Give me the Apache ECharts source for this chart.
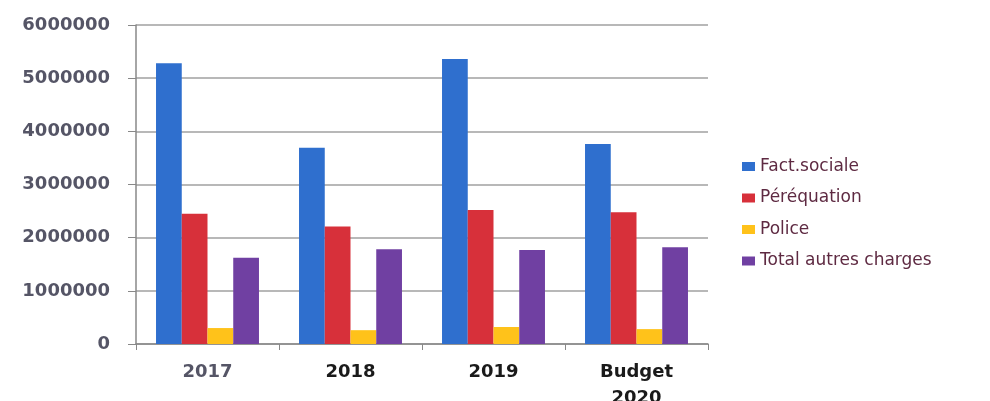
<!DOCTYPE html>
<html><head><meta charset="utf-8">
<script src="https://cdn.jsdelivr.net/npm/echarts@6/dist/echarts.min.js"></script>
<style>html,body{margin:0;padding:0;background:#fff}#c{width:990px;height:401px}</style>
</head><body><div id="c"></div>
<script>
const categories = ['2017', '2018', '2019', 'Budget\n2020'];
const factSociale = [5280000, 3690000, 5360000, 3760000];
const perequation = [2450000, 2210000, 2520000, 2480000];
const police = [300000, 260000, 320000, 280000];
const totalAutres = [1620000, 1780000, 1770000, 1820000];
const seriesNames = ['Fact.sociale', 'Péréquation', 'Police', 'Total autres charges'];
const colors = ['#2f6fce', '#d7303a', '#ffc21a', '#7040a2'];

const chart = echarts.init(document.getElementById('c'));
const dataSets = [factSociale, perequation, police, totalAutres];
chart.setOption({
  animation: false,
  grid: { left: 136, right: 282, top: 25, bottom: 57, containLabel: false, outerBoundsMode: 'none' },
  legend: {
    orient: 'vertical', left: 737, top: 152, itemGap: 12.5,
    itemWidth: 13, itemHeight: 9, icon: 'rect',
    textStyle: { fontFamily: 'DejaVu Sans', fontSize: 17, color: '#5e2a42', lineHeight: 19 },
    data: seriesNames
  },
  xAxis: {
    type: 'category', data: categories,
    axisLine: { lineStyle: { color: '#888', width: 1.5 } },
    axisTick: { show: true, length: 6, lineStyle: { color: '#888' } },
    axisLabel: {
      margin: 15, fontFamily: 'DejaVu Sans', fontWeight: 'bold', fontSize: 18,
      lineHeight: 26,
      color: function (v, i) { return i === 0 ? '#555566' : '#1a1a1a'; }
    }
  },
  yAxis: {
    type: 'value', min: 0, max: 6000000, interval: 1000000,
    axisLine: { show: true, lineStyle: { color: '#888', width: 1.5 } },
    axisTick: { show: true, length: 8, lineStyle: { color: '#888' } },
    splitLine: { lineStyle: { color: '#a0a0a0', width: 1.5 } },
    axisLabel: {
      margin: 26, fontFamily: 'DejaVu Sans', fontWeight: 'bold', fontSize: 18, color: '#555566',
      formatter: function (v) { return String(v); }
    }
  },
  series: dataSets.map((d, i) => ({
    name: seriesNames[i], type: 'bar', data: d,
    barGap: '0%', barCategoryGap: '28%',
    itemStyle: { color: colors[i] }
  }))
});
</script></body></html>
